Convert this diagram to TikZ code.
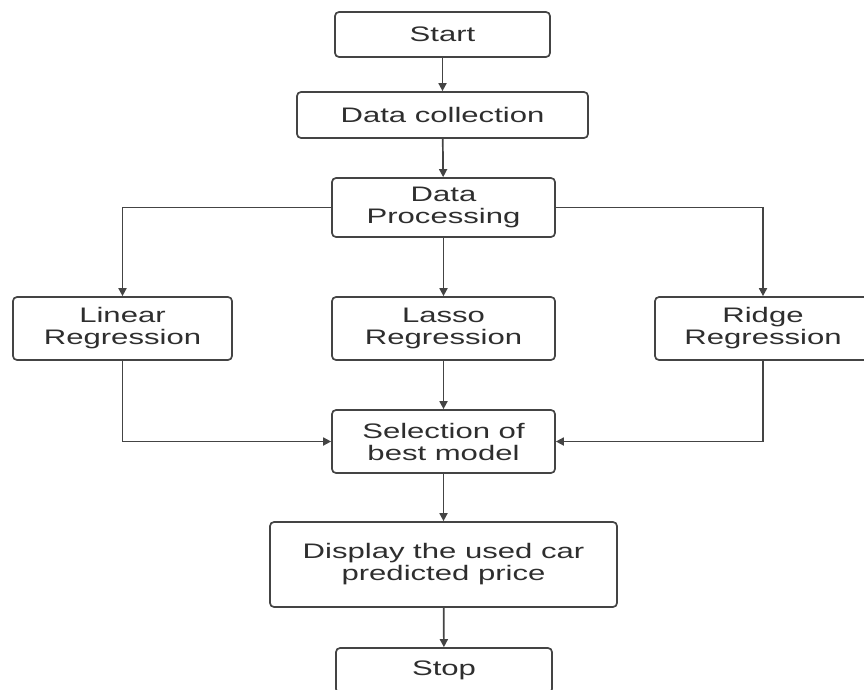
\documentclass[tikz,border=0pt]{standalone}
\usepackage{fontspec}
\setmainfont[FakeStretch=1.48]{Liberation Sans}
\usetikzlibrary{arrows.meta}
\definecolor{trait}{HTML}{444444}
\definecolor{texte}{HTML}{2E2E2E}
\begin{document}
\begin{tikzpicture}[x=1pt,y=-1pt,line width=1.7pt]  % coordonnees en pixels
\tikzstyle{boite}=[draw=trait,rounded corners=4pt,align=center,text=texte,
  font=\fontsize{21}{22}\selectfont,inner sep=0pt]
\tikzstyle{fleche}=[draw=trait,-{Triangle[length=8pt,width=8pt]}]
\useasboundingbox (0,0) rectangle (864,690);
% colonne centrale
\node[boite,minimum width=215pt,minimum height=45pt] (start) at (442.5,34.5) {Start};
\node[boite,minimum width=291pt,minimum height=46pt] (collect) at (442.5,115) {Data collection};
\node[boite,minimum width=223pt,minimum height=59pt] (process) at (443.5,207.5) {Data\\Processing};
% les trois modeles
\node[boite,minimum width=219pt,minimum height=63pt] (linear) at (122.5,328.5) {Linear\\Regression};
\node[boite,minimum width=223pt,minimum height=63pt] (lasso) at (443.5,328.5) {Lasso\\Regression};
\node[boite,minimum width=216pt,minimum height=63pt] (ridge) at (763,328.5) {Ridge\\Regression};
\node[boite,minimum width=223pt,minimum height=63pt] (select) at (443.5,441.5) {Selection of\\best model};
\node[boite,minimum width=347pt,minimum height=85pt] (display) at (443.5,564.5) {Display the used car\\predicted price};
\node[boite,minimum width=216pt,minimum height=45pt] (stop) at (444,670.5) {Stop};
% liaisons
\draw[fleche] (start) -- (collect);
\draw[fleche] (collect) -- (process);
\draw[fleche] (process.west) -| (linear.north);
\draw[fleche] (process) -- (lasso);
\draw[fleche] (process.east) -| (ridge.north);
\draw[fleche] (linear.south) |- (select.west);
\draw[fleche] (lasso) -- (select);
\draw[fleche] (ridge.south) |- (select.east);
\draw[fleche] (select) -- (display);
\draw[fleche] (display) -- (stop);
\end{tikzpicture}
\end{document}
